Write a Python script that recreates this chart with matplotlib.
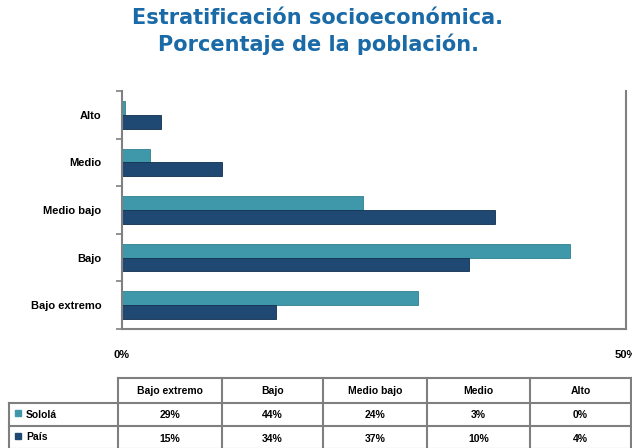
import matplotlib.pyplot as plt
from matplotlib.lines import Line2D
from matplotlib.patches import Rectangle
import numpy as np

# datos
categorias = ["Bajo extremo", "Bajo", "Medio bajo", "Medio", "Alto"]
sololá = [29.4, 44.4, 23.9, 2.8, 0.3]
pais = [15.3, 34.4, 37.0, 9.9, 3.9]
series = ["Sololá", "País"]
colores = ["#3f98aa", "#1f4872"]

W, H = 632, 448
fig = plt.figure(figsize=(W / 100, H / 100), dpi=100)
fuente = ["Liberation Sans", "DejaVu Sans"]

# gráfico de barras
ax = fig.add_axes([122 / W, 1 - 329 / H, (626 - 122) / W, (329 - 91) / H])
y = np.arange(len(categorias))
h = 0.29
ax.barh(y + h / 2, sololá, h, color=colores[0], edgecolor="#2f7f90", linewidth=0.6)
ax.barh(y - h / 2, pais, h, color=colores[1], edgecolor="#10304f", linewidth=0.6)
ax.set_xlim(0, 50)
ax.set_ylim(-0.5, len(categorias) - 0.5)
ax.set_yticks(y)
ax.set_yticklabels(categorias, family=fuente, fontweight="bold", fontsize=8)
ax.set_yticks(np.arange(-0.5, len(categorias)), minor=True)
ax.tick_params(axis="y", which="major", length=0, pad=15)
ax.tick_params(axis="y", which="minor", length=4, width=1.2, color="#808080")
ax.set_xticks([0, 50])
ax.set_xticklabels(["0%", "50%"], family=fuente, fontweight="bold", fontsize=8)
ax.tick_params(axis="x", length=0, pad=15)
ax.spines["top"].set_visible(False)
for s in ["left", "bottom", "right"]:
    ax.spines[s].set_color("#808080")
    ax.spines[s].set_linewidth(1.5)

# título
fig.text(318 / W, 1 - 18 / H, "Estratificación socioeconómica.", ha="center", va="center",
         fontsize=15, fontweight="bold", color="#1b6aa8", family="DejaVu Sans")
fig.text(318 / W, 1 - 44 / H, "Porcentaje de la población.", ha="center", va="center",
         fontsize=15, fontweight="bold", color="#1b6aa8", family="DejaVu Sans")

# tabla de datos
tx = fig.add_axes([0, 0, 1, 1], zorder=-1)
tx.set_xlim(0, W)
tx.set_ylim(H, 0)
tx.axis("off")
xs = [9, 118, 222, 323, 427, 530, 631]
ys = [378, 403, 426, 449]
lk = dict(color="#7f7f7f", lw=1.5)
tx.add_line(Line2D([xs[1], xs[-1]], [ys[0], ys[0]], **lk))
for yy in ys[1:]:
    tx.add_line(Line2D([xs[0], xs[-1]], [yy, yy], **lk))
tx.add_line(Line2D([xs[0], xs[0]], [ys[1], ys[-1]], **lk))
for xx in xs[1:]:
    tx.add_line(Line2D([xx, xx], [ys[0], ys[-1]], **lk))

tk = dict(family=fuente, fontweight="bold", fontsize=7.5, va="center", ha="center")
for i, c in enumerate(categorias):
    tx.text((xs[i + 1] + xs[i + 2]) / 2, (ys[0] + ys[1]) / 2, c, **tk)
for r, (nombre, vals) in enumerate(zip(series, [sololá, pais])):
    yc = (ys[r + 1] + ys[r + 2]) / 2
    tx.add_patch(Rectangle((15, yc - 4), 6, 6, color=colores[r]))
    tx.text(26, yc, nombre, family=fuente, fontweight="bold", fontsize=7.5, va="center", ha="left")
    for i, v in enumerate(vals):
        tx.text((xs[i + 1] + xs[i + 2]) / 2, yc + 1, f"{round(v)}%", **tk)

plt.savefig("out.png", dpi=100)
